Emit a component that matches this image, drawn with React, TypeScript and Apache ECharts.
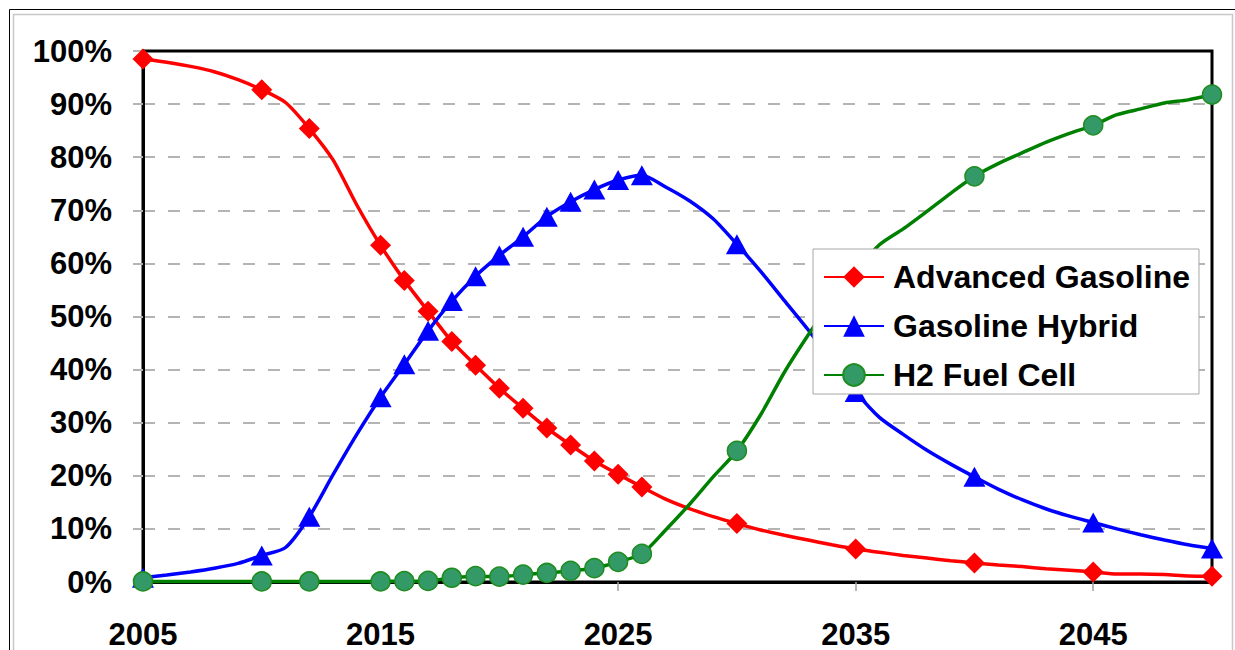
import React, { useEffect, useRef } from "react";
import * as echarts from "echarts";

const years = [
  2005, 2006, 2007, 2008, 2009, 2010, 2011, 2012, 2013, 2014,
  2015, 2016, 2017, 2018, 2019, 2020, 2021, 2022, 2023, 2024,
  2025, 2026, 2027, 2028, 2029, 2030, 2031, 2032, 2033, 2034,
  2035, 2036, 2037, 2038, 2039, 2040, 2041, 2042, 2043, 2044,
  2045, 2046, 2047, 2048, 2049, 2050,
];

const markerYears = [
  2005, 2010, 2012, 2015, 2016, 2017, 2018, 2019, 2020, 2021, 2022,
  2023, 2024, 2025, 2026, 2030, 2035, 2040, 2045, 2050,
];

const advancedGasoline = [
  98.5, 97.9, 97.1, 96.1, 94.6, 92.7, 90.3, 85.4, 79.5, 71.0,
  63.4, 56.8, 51.0, 45.3, 40.8, 36.5, 32.7, 29.0, 25.8, 22.8,
  20.3, 17.9, 15.6, 13.8, 12.3, 11.0, 9.8, 8.8, 7.9, 7.0,
  6.2, 5.6, 5.0, 4.5, 4.0, 3.6, 3.2, 2.9, 2.5, 2.2,
  1.9, 1.5, 1.5, 1.4, 1.15, 1.1,
];

const gasolineHybrid = [
  0.8, 1.3, 1.9, 2.6, 3.5, 5.0, 6.5, 12.3, 20.2, 27.8,
  34.8, 41.0, 47.3, 52.9, 57.6, 61.5, 65.0, 68.8, 71.6, 73.9,
  75.7, 76.6, 74.4, 71.8, 68.4, 63.6, 58.5, 53.0, 47.5, 41.5,
  35.8, 31.0, 27.8, 24.8, 22.2, 19.8, 17.5, 15.5, 13.8, 12.4,
  11.2, 10.0, 8.9, 7.9, 7.0, 6.3,
];

const h2FuelCell = [
  0.1, 0.1, 0.1, 0.1, 0.1, 0.1, 0.1, 0.1, 0.1, 0.1,
  0.1, 0.15, 0.2, 0.8, 1.1, 1.0, 1.4, 1.7, 2.1, 2.6,
  3.8, 5.3, 9.8, 14.6, 19.8, 24.7, 31.5, 39.5, 46.5, 53.0,
  58.5, 63.5, 66.5, 69.8, 73.2, 76.4, 78.8, 80.8, 82.8, 84.5,
  86.0, 88.0, 89.1, 90.2, 90.8, 91.8,
];

const seriesNames = ["Advanced Gasoline", "Gasoline Hybrid", "H2 Fuel Cell"];

const FONT = '"Liberation Sans", Arial, Helvetica, sans-serif';

function withMarkers(values: number[]) {
  return values.map((v, i) =>
    markerYears.includes(years[i]) ? { value: v } : { value: v, symbol: "none" }
  );
}

export default function App() {
  const ref = useRef<HTMLDivElement>(null);

  useEffect(() => {
    if (!ref.current) return;
    const chart = echarts.init(ref.current, undefined, { renderer: "svg" });
    chart.setOption({
      animation: false,
      backgroundColor: "#ffffff",
      textStyle: { fontFamily: FONT },
      graphic: [
        {
          type: "rect",
          shape: { x: 9.5, y: 9.5, width: 1240, height: 700 },
          style: { fill: "none", stroke: "#000000", lineWidth: 1 },
          silent: true,
        },
        {
          type: "rect",
          shape: { x: 13.5, y: 14.5, width: 1219, height: 700 },
          style: { fill: "none", stroke: "#c8c8c8", lineWidth: 1.5 },
          silent: true,
        },
      ],
      grid: {
        left: 143,
        right: 23,
        top: 51,
        bottom: 64,
        show: true,
        borderColor: "#000000",
        borderWidth: 3,
        backgroundColor: "transparent",
      },
      legend: {
        orient: "vertical",
        left: 813,
        top: 249,
        data: seriesNames,
        backgroundColor: "#ffffff",
        borderColor: "#a6a6a6",
        borderWidth: 1,
        padding: [11, 9, 2, 10],
        itemWidth: 60,
        itemHeight: 27,
        itemGap: 15,
        textStyle: {
          fontFamily: FONT,
          fontSize: 32,
          fontWeight: "bold",
          color: "#000000",
          lineHeight: 34,
          padding: [0, 0, 0, 4],
        },
      },
      xAxis: {
        type: "category",
        data: years.map(String),
        boundaryGap: false,
        axisLine: { lineStyle: { color: "#000000", width: 3 } },
        axisTick: {
          show: true,
          interval: 9,
          length: 9,
          lineStyle: { color: "#a0a0a0", width: 1.5 },
        },
        axisLabel: {
          interval: 9,
          margin: 37,
          fontFamily: FONT,
          fontSize: 31,
          fontWeight: "bold",
          color: "#000000",
        },
        splitLine: { show: false },
      },
      yAxis: {
        type: "value",
        min: 0,
        max: 100,
        interval: 10,
        axisLine: { show: true, lineStyle: { color: "#000000", width: 3 } },
        axisTick: {
          show: true,
          length: 10,
          lineStyle: { color: "#b4b4b4", width: 2 },
        },
        axisLabel: {
          formatter: "{value}%",
          margin: 31,
          fontFamily: FONT,
          fontSize: 31,
          fontWeight: "bold",
          color: "#000000",
        },
        splitLine: {
          show: true,
          showMinLine: false,
          showMaxLine: false,
          lineStyle: { color: "#b4b4b4", width: 2, type: [12, 13] },
        },
      },
      series: [
        {
          name: seriesNames[0],
          type: "line",
          data: withMarkers(advancedGasoline),
          smooth: 0.25,
          showAllSymbol: true,
          symbol: "diamond",
          symbolSize: [21, 21],
          lineStyle: { color: "#ff0000", width: 3.5 },
          itemStyle: { color: "#ff0000" },
        },
        {
          name: seriesNames[1],
          type: "line",
          data: withMarkers(gasolineHybrid),
          smooth: 0.25,
          showAllSymbol: true,
          symbol: "triangle",
          symbolSize: [22, 20],
          lineStyle: { color: "#0000ff", width: 3.5 },
          itemStyle: { color: "#0000ff" },
        },
        {
          name: seriesNames[2],
          type: "line",
          data: withMarkers(h2FuelCell),
          smooth: 0.25,
          showAllSymbol: true,
          symbol: "circle",
          symbolSize: 19,
          lineStyle: { color: "#008000", width: 3.5 },
          itemStyle: { color: "#339966", borderColor: "#1e8c1e", borderWidth: 1.5 },
        },
      ],
    });
    return () => chart.dispose();
  }, []);

  return <div ref={ref} style={{ width: 1235, height: 650, position: "absolute", left: 0, top: 0 }} />;
}
